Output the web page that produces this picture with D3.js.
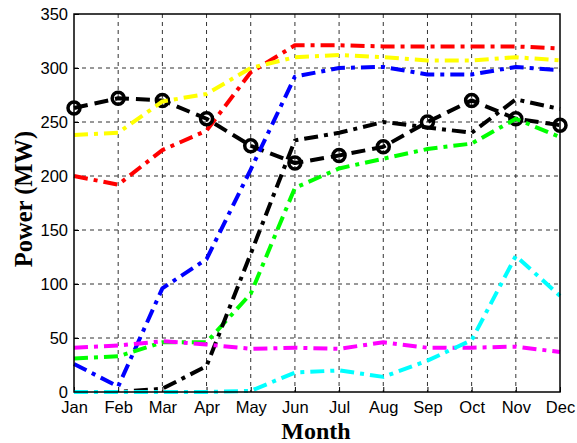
<!DOCTYPE html>
<html>
<head>
<meta charset="utf-8">
<script src="https://cdn.jsdelivr.net/npm/d3@7"></script>
<style>
  html, body { margin: 0; padding: 0; background: #fff; }
  svg { display: block; }
</style>
</head>
<body>
<svg id="chart" width="577" height="443"></svg>
<script>
// Monthly power output (MW) for eight sources
const months = ["Jan","Feb","Mar","Apr","May","Jun","Jul","Aug","Sep","Oct","Nov","Dec"];
const yTicks = [0, 50, 100, 150, 200, 250, 300, 350];

const redSeries     = [200, 192, 224, 242, 296, 321, 321, 320, 320, 320, 320, 318];
const blackCircles  = [263, 272, 270, 253, 228, 212, 219, 227, 250, 270, 253, 247];
const yellowSeries  = [238, 240, 269, 276, 300, 310, 312, 310, 307, 307, 310, 307];
const blueSeries    = [26, 5, 96, 123, 206, 292, 300, 301, 294, 294, 301, 298];
const greenSeries   = [31, 33, 46, 46, 91, 189, 207, 216, 225, 230, 253, 236];
const blackDashDot  = [0, 0, 3, 24, 128, 233, 240, 250, 245, 240, 271, 262];
const magentaSeries = [41, 43, 47, 44, 40, 41, 40, 46, 41, 41, 42, 37];
const cyanSeries    = [0, 0, 0, 0, 1, 18, 20, 14, 29, 48, 126, 89];

const series = [
  { values: redSeries,     color: "#ff0000", dash: "14,6,4,6" },
  { values: blackCircles,  color: "#000000", dash: "14,7", markers: true },
  { values: yellowSeries,  color: "#ffff00", dash: "14,6,4,6" },
  { values: blueSeries,    color: "#0000ff", dash: "14,6,4,6" },
  { values: greenSeries,   color: "#00ff00", dash: "14,6,4,6" },
  { values: blackDashDot,  color: "#000000", dash: "14,6,4,6" },
  { values: magentaSeries, color: "#ff00ff", dash: "14,6,4,6" },
  { values: cyanSeries,    color: "#00ffff", dash: "14,6,4,6" }
];

const svg = d3.select("#chart");
const plotLeft = 74, plotRight = 560, plotTop = 14, plotBottom = 392;

const x = d3.scalePoint().domain(months).range([plotLeft, plotRight]);
const y = d3.scaleLinear().domain([0, 350]).range([plotBottom, plotTop]);

// grid
const grid = svg.append("g");
grid.selectAll("line.vx").data(months.slice(1, -1)).enter().append("line")
  .attr("x1", d => x(d)).attr("x2", d => x(d))
  .attr("y1", plotTop).attr("y2", plotBottom)
  .attr("stroke", "#333").attr("stroke-width", 1).attr("stroke-dasharray", "4,4");
grid.selectAll("line.hy").data(yTicks.slice(1, -1)).enter().append("line")
  .attr("x1", plotLeft).attr("x2", plotRight)
  .attr("y1", d => y(d)).attr("y2", d => y(d))
  .attr("stroke", "#333").attr("stroke-width", 1).attr("stroke-dasharray", "4,4");

// axes
const xAxis = d3.axisBottom(x).tickSizeInner(-5).tickSizeOuter(0).tickPadding(9);
const yAxis = d3.axisLeft(y).tickValues(yTicks).tickSizeInner(-5).tickSizeOuter(0).tickPadding(6);

const gx = svg.append("g").attr("transform", `translate(0,${plotBottom})`).call(xAxis);
const gy = svg.append("g").attr("transform", `translate(${plotLeft},0)`).call(yAxis);
[gx, gy].forEach(g => {
  g.select(".domain").remove();
  g.selectAll("text").attr("font-family", "Liberation Sans, Arial, sans-serif")
    .attr("font-size", 16.5).attr("fill", "#000");
  g.selectAll(".tick line").attr("stroke", "#000");
});
gy.selectAll("text").attr("dy", "0.32em");

// series lines
const line = d3.line().x((d, i) => x(months[i])).y(d => y(d));
series.forEach(s => {
  svg.append("path").datum(s.values)
    .attr("d", line)
    .attr("fill", "none")
    .attr("stroke", s.color)
    .attr("stroke-width", 4)
    .attr("stroke-dasharray", s.dash)
    .attr("stroke-linejoin", "round");
  if (s.markers) {
    svg.append("g").selectAll("circle").data(s.values).enter().append("circle")
      .attr("cx", (d, i) => x(months[i]))
      .attr("cy", d => y(d))
      .attr("r", 6)
      .attr("fill", "none")
      .attr("stroke", s.color)
      .attr("stroke-width", 3.5);
  }
});

// frame
svg.append("rect").attr("x", plotLeft).attr("y", plotTop)
  .attr("width", plotRight - plotLeft).attr("height", plotBottom - plotTop)
  .attr("fill", "none").attr("stroke", "#000").attr("stroke-width", 1.5);

// axis titles
svg.append("text").attr("x", 316).attr("y", 439)
  .attr("text-anchor", "middle")
  .attr("font-family", "Liberation Serif, Times New Roman, serif")
  .attr("font-weight", "bold").attr("font-size", 24)
  .text("Month");
svg.append("text")
  .attr("transform", "translate(32,199) rotate(-90)")
  .attr("text-anchor", "middle")
  .attr("font-family", "Liberation Serif, Times New Roman, serif")
  .attr("font-weight", "bold").attr("font-size", 24.5)
  .text("Power (MW)");
</script>
</body>
</html>
